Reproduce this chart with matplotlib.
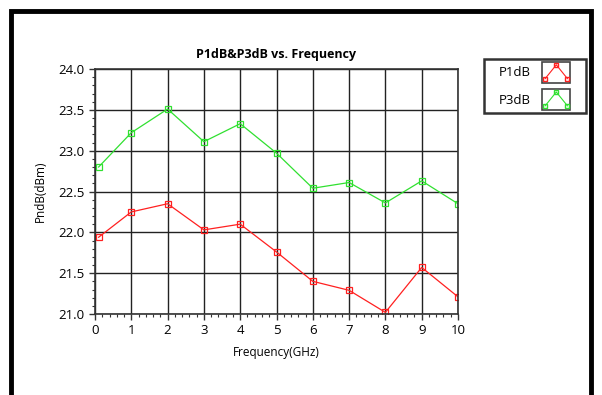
import numpy as np
import matplotlib
matplotlib.use("Agg")
import matplotlib.pyplot as plt
from matplotlib.patches import Rectangle
from matplotlib.lines import Line2D
from matplotlib.legend_handler import HandlerBase
from matplotlib.ticker import MultipleLocator

freq = [0.1, 1, 2, 3, 4, 5, 6, 7, 8, 9, 10]
p1db = [21.94, 22.25, 22.35, 22.03, 22.10, 21.76, 21.40, 21.29, 21.02, 21.57, 21.21]
p3db = [22.80, 23.22, 23.51, 23.11, 23.33, 22.97, 22.54, 22.61, 22.36, 22.63, 22.35]

red = '#ff2020'
green = '#30e030'

plt.rcParams['font.family'] = ['Open Sans', 'DejaVu Sans']


class IconHandler(HandlerBase):
    # little boxed zigzag like the original legend icon
    def create_artists(self, legend, orig, xdescent, ydescent, w, h, fontsize, trans):
        c = orig.get_color()
        x0, y0 = -xdescent, -ydescent
        bw = 0.68 * w
        box = Rectangle((x0, y0), bw, h, facecolor='white',
                        edgecolor='#444444', lw=1.2, transform=trans)
        xs = [x0 + 0.1 * bw, x0 + 0.5 * bw, x0 + 0.9 * bw]
        ys = [y0 + 0.2 * h, y0 + 0.85 * h, y0 + 0.2 * h]
        ln = Line2D(xs, ys, color=c, lw=0.8, marker='s', ms=3,
                    mfc='none', mec=c, transform=trans)
        return [box, ln]


fig = plt.figure(figsize=(6.02, 3.95), dpi=100)
fig.patches.append(Rectangle((11 / 602, -0.1), 580 / 602, 1 - 11 / 395 + 0.1,
                             transform=fig.transFigure, fill=False,
                             edgecolor='black', lw=3.5))

ax = fig.add_axes([95 / 602, 1 - 314 / 395, 363 / 602, 245 / 395])
l1, = ax.plot(freq, p1db, color=red, lw=0.9, marker='s', ms=4, mfc='none', mec=red, mew=0.9)
l2, = ax.plot(freq, p3db, color=green, lw=0.9, marker='s', ms=4, mfc='none', mec=green, mew=0.9)

ax.set_xlim(0, 10)
ax.set_ylim(21.0, 24.0)
ax.xaxis.set_major_locator(MultipleLocator(1))
ax.xaxis.set_minor_locator(MultipleLocator(0.2))
ax.yaxis.set_major_locator(MultipleLocator(0.5))
ax.yaxis.set_minor_locator(MultipleLocator(0.1))
ax.yaxis.set_major_formatter(lambda v, p: f'{v:.1f}')
ax.grid(True, which='major', color='#222222', lw=1.0)
ax.set_axisbelow(True)
for s in ax.spines.values():
    s.set_color('#333333')
    s.set_linewidth(1.2)
ax.tick_params(which='major', length=4, width=1, labelsize=9.5, color='#333333')
ax.tick_params(which='minor', length=2, width=0.8, color='#333333')

ax.set_title('P1dB&P3dB vs. Frequency', fontsize=9, fontweight='bold', pad=8)
ax.set_xlabel('Frequency(GHz)', fontsize=8.5, labelpad=6)
ax.set_ylabel('PndB(dBm)', fontsize=8.5, labelpad=8)

leg = fig.legend([l1, l2], ['P1dB', 'P3dB'], handler_map={Line2D: IconHandler()},
                 loc='upper left', bbox_to_anchor=(484 / 602, 1 - 59 / 395),
                 markerfirst=False, fontsize=9.5, frameon=True, fancybox=False,
                 handlelength=3.1, handleheight=2.1, labelspacing=0.45,
                 borderpad=0.2, handletextpad=1.8, borderaxespad=0)
leg.get_frame().set_edgecolor('black')
leg.get_frame().set_linewidth(1.8)
for t in leg.get_texts():
    t.set_x(12)

fig.savefig('out.png', dpi=100)
